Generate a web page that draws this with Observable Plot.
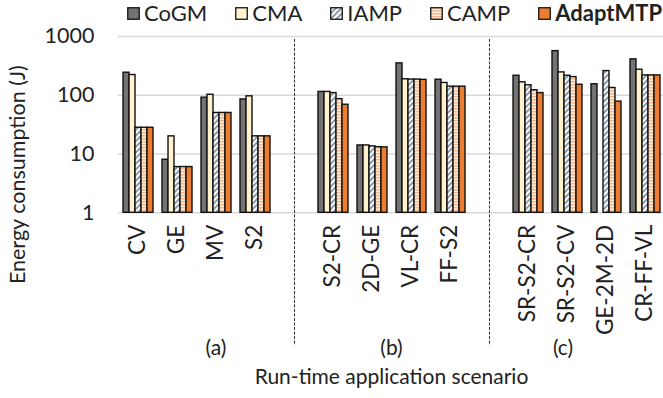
<!DOCTYPE html>
<html>
<head>
<meta charset="utf-8">
<script src="https://cdn.jsdelivr.net/npm/d3@7"></script>
<script src="https://cdn.jsdelivr.net/npm/@observablehq/plot@0.6"></script>
<style>
  body { margin: 0; background: #fff; font-family: Lato, "Open Sans", sans-serif; }
  #wrap { position: relative; width: 663px; height: 398px; overflow: hidden; }
  #legend { position: absolute; top: 0px; left: 127px; display: flex; align-items: center; font-size: 22px; color: #222; white-space: nowrap; line-height: 26px; }
  #legend .item { display: flex; align-items: center; margin-right: 28px; }
  #legend .item:last-child { margin-right: 0; }
  #legend svg { margin-right: 4px; }
</style>
</head>
<body>
<svg width="0" height="0" style="position:absolute">
  <defs>
    <pattern id="pIAMP" patternUnits="userSpaceOnUse" width="4" height="4" patternTransform="rotate(45)">
      <rect width="4" height="4" fill="#ffffff"/>
      <rect width="2" height="4" fill="#8e9aab"/>
    </pattern>
    <pattern id="pCAMP" patternUnits="userSpaceOnUse" width="4" height="3">
      <rect width="4" height="3" fill="#fdeedd"/>
      <rect width="4" height="1.5" fill="#f2b98f"/>
    </pattern>
  </defs>
</svg>
<div id="wrap">
  <div id="legend"></div>
</div>
<script>
// ---- data ----
const categories = ["CV","GE","MV","S2","S2-CR","2D-GE","VL-CR","FF-S2","SR-S2-CR","SR-S2-CV","GE-2M-2D","CR-FF-VL"];
const gapSlots = ["gap1","gap2"];
const slots = ["CV","GE","MV","S2","gap1","S2-CR","2D-GE","VL-CR","FF-S2","gap2","SR-S2-CR","SR-S2-CV","GE-2M-2D","CR-FF-VL"];
const series = ["CoGM","CMA","IAMP","CAMP","AdaptMTP"];
const CoGM     = [242, 8, 91, 85, 114, 14.0, 349, 184, 215, 564, 154, 408];
const CMA      = [221, 20, 102, 96, 114, 14.0, 187, 162, 166, 245, null, 272];
const IAMP     = [28, 6, 50, 20, 109, 13.5, 185, 140, 148, 215, 258, 218];
const CAMP     = [28, 6, 50, 20, 86, 13.1, 185, 140, 122, 204, 133, 218];
const AdaptMTP = [28, 6, 50, 20, 69, 13.0, 183, 140, 109, 151, 78, 218];
const yTicks = [1, 10, 100, 1000];
const sectionLabels = ["(a)", "(b)", "(c)"];
const xTitle = "Run-time application scenario";
const yTitle = "Energy consumption (J)";

const seriesValues = {CoGM, CMA, IAMP, CAMP, AdaptMTP};
const fills = {CoGM: "#737373", CMA: "#fff2cc", IAMP: "url(#pIAMP)", CAMP: "url(#pCAMP)", AdaptMTP: "#ed7d31"};

const rows = [];
series.forEach(s => categories.forEach((c, i) => {
  const v = seriesValues[s][i];
  if (v != null) rows.push({cat: c, series: s, value: v});
}));

// ---- legend ----
const legend = document.getElementById("legend");
series.forEach(s => {
  const it = document.createElement("div");
  it.className = "item";
  it.innerHTML = `<svg width="13" height="13"><rect x="0.75" y="0.75" width="11.5" height="11.5" fill="${fills[s]}" stroke="#111" stroke-width="1.3"/></svg><span style="${s === "AdaptMTP" ? "font-weight:bold" : ""}">${s}</span>`;
  legend.appendChild(it);
});

// ---- chart ----
const font = "Lato, 'Open Sans', sans-serif";
const chart = Plot.plot({
  width: 663,
  height: 398,
  marginLeft: 114,
  marginRight: -4,
  marginTop: 36,
  marginBottom: 185.7,
  style: {fontFamily: font, fontSize: "20px", color: "#222", background: "transparent", overflow: "visible"},
  fx: {domain: slots, padding: 0, axis: null},
  x: {domain: series, paddingInner: 0, paddingOuter: 0.69, axis: null},
  y: {type: "log", domain: [1, 1000], axis: null},
  marks: [
    Plot.ruleY(yTicks, {stroke: "#d9d9d9", strokeWidth: 1.6}),
    ...series.map(s => Plot.barY(rows.filter(d => d.series === s), {
      fx: "cat", x: "series", y1: 1, y2: "value",
      fill: fills[s], stroke: "#111", strokeWidth: 1.4
    })),
    Plot.axisY({ticks: yTicks, tickSize: 0, tickPadding: 24, tickFormat: d3.format("d"), label: null, fontSize: 21.5}),
    Plot.axisFx({anchor: "bottom", domain: slots, tickSize: 0, tickPadding: 12, tickRotate: -90,
      tickFormat: d => gapSlots.includes(d) ? "" : d, label: null, fontSize: 22.5}),
    Plot.ruleX(gapSlots, {fx: d => d, x: () => series[2], stroke: "#333", strokeWidth: 1, strokeDasharray: "3,1.5", insetTop: 3, insetBottom: -133}),
    Plot.text([sectionLabels[0]], {fx: () => "MV", text: d => d, frameAnchor: "bottom", dy: 142, fontSize: 21}),
    Plot.text([sectionLabels[1]], {fx: () => "VL-CR", text: d => d, frameAnchor: "bottom-left", textAnchor: "middle", dy: 142, fontSize: 21}),
    Plot.text([sectionLabels[2]], {fx: () => "SR-S2-CV", text: d => d, frameAnchor: "bottom", dx: -4, dy: 142, fontSize: 21}),
    Plot.text([xTitle], {fx: () => "2D-GE", text: d => d, frameAnchor: "bottom-right", textAnchor: "middle", dy: 171, fontSize: 21}),
    Plot.text([yTitle], {fx: () => "CV", text: d => d, frameAnchor: "left", textAnchor: "middle", rotate: -90, dx: -100, dy: 50, fontSize: 21.5})
  ]
});
document.getElementById("wrap").appendChild(chart);
</script>
</body>
</html>
